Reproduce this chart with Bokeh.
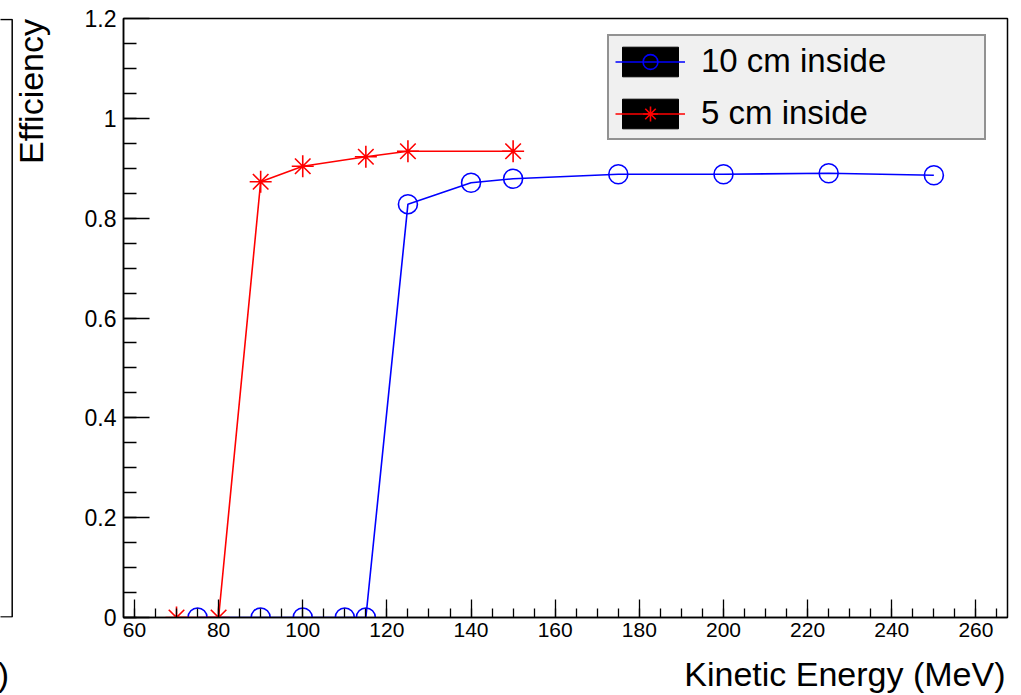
import math
from bokeh.plotting import figure
from bokeh.layouts import row
from bokeh.models import (Range1d, FixedTicker, Legend, LegendItem, Label,
                          ColumnDataSource)
from bokeh.embed import file_html
from bokeh.resources import INLINE

# ---------------- data ----------------
energy_10cm = [75, 90, 100, 110, 115, 125, 140, 150, 175, 200, 225, 250]
eff_10cm = [0.0, 0.0, 0.0, 0.0, 0.0, 0.828, 0.871, 0.879, 0.888, 0.888, 0.890, 0.886]

energy_5cm = [70, 80, 90, 100, 115, 125, 150]
eff_5cm = [0.0, 0.0, 0.873, 0.904, 0.923, 0.934, 0.934]

series_names = ["10 cm inside", "5 cm inside"]

x_major_ticks = [60, 80, 100, 120, 140, 160, 180, 200, 220, 240, 260]
x_minor_ticks = list(range(55, 270, 5))
y_major_ticks = [0, 0.2, 0.4, 0.6, 0.8, 1.0, 1.2]
y_tick_labels = ["0", "0.2", "0.4", "0.6", "0.8", "1", "1.2"]
y_minor_ticks = [i * 0.05 for i in range(0, 25)]

x_title = "Kinetic Energy (MeV)"
y_title = "Efficiency"
neighbour_title_tail = ")"

# ---------------- layout (pixels) ----------------
W, H = 1021, 695
LEFT_W = 60            # left strip: remnant of neighbouring pad + y title
FL, FR, FT, FB = 123, 1007, 18, 617   # main frame in page pixels
XMIN, XMAX = 57.4, 267.5
YMIN, YMAX = 0.0, 1.2
FONT = "Liberation Sans"
NAN = float("nan")
TITLE_MID_Y = 673      # vertical centre of the bottom titles (page px)
YTITLE_MID_X = 30      # horizontal centre of the rotated y title (page px)


def dx(sx):
    return XMIN + (sx - FL) * (XMAX - XMIN) / (FR - FL)


def dy(sy):
    return YMIN + (FB - sy) * (YMAX - YMIN) / (FB - FT)


# ---------------- main plot ----------------
p = figure(width=W - LEFT_W, height=H, output_backend="svg",
           toolbar_location=None,
           x_range=Range1d(XMIN, XMAX), y_range=Range1d(YMIN, YMAX),
           min_border_left=FL - LEFT_W, min_border_right=W - FR,
           min_border_top=FT, min_border_bottom=H - FB)
p.title.visible = False
p.background_fill_color = "white"
p.border_fill_color = "white"
p.outline_line_color = "black"
p.outline_line_width = 1.5
p.xgrid.visible = False
p.ygrid.visible = False

xa = p.xaxis[0]
xa.ticker = FixedTicker(ticks=x_major_ticks, minor_ticks=x_minor_ticks)
xa.major_tick_in = 18
xa.major_tick_out = 0
xa.minor_tick_in = 9
xa.minor_tick_out = 0
xa.major_tick_line_width = 1.3
xa.minor_tick_line_width = 1.3
xa.axis_line_width = 1.5
xa.major_label_text_font = FONT
xa.major_label_text_font_size = "21px"
xa.major_label_text_color = "black"
xa.major_label_standoff = 5

ya = p.yaxis[0]
ya.ticker = FixedTicker(ticks=y_major_ticks, minor_ticks=y_minor_ticks)
ya.major_label_overrides = {t: l for t, l in zip(y_major_ticks, y_tick_labels)}
ya.major_tick_in = 26
ya.major_tick_out = 0
ya.minor_tick_in = 13
ya.minor_tick_out = 0
ya.major_tick_line_width = 1.3
ya.minor_tick_line_width = 1.3
ya.axis_line_width = 1.5
ya.major_label_text_font = FONT
ya.major_label_text_font_size = "23px"
ya.major_label_text_color = "black"
ya.major_label_standoff = 7

src10 = ColumnDataSource(dict(x=energy_10cm, y=eff_10cm))
src5 = ColumnDataSource(dict(x=energy_5cm, y=eff_5cm))

l10 = p.line("x", "y", source=src10, line_color="#0000ff", line_width=1.6)
m10 = p.scatter("x", "y", source=src10, marker="circle", size=19,
                fill_color=None, line_color="#0000ff", line_width=1.6)
l5 = p.line("x", "y", source=src5, line_color="#ff0000", line_width=1.6)
m5 = p.scatter("x", "y", source=src5, marker="asterisk", size=22,
               line_color="#ff0000", line_width=1.6)

# black swatch behind each legend entry (NaN -> nothing drawn in the plot)
swatch = p.quad(left=[NAN], right=[NAN], top=[NAN], bottom=[NAN],
                fill_color="black", line_color="black")

legend = Legend(items=[
    LegendItem(label=series_names[0], renderers=[swatch, l10, m10]),
    LegendItem(label=series_names[1], renderers=[swatch, l5, m5]),
])
legend.location = (607 - FL, FB - 140)
legend.margin = 0
legend.padding = 6
legend.spacing = 14
legend.glyph_width = 70
legend.glyph_height = 37
legend.label_standoff = 16
legend.label_width = 378 - 12 - 70 - 16 - 3
legend.label_height = 37
legend.label_text_font = FONT
legend.label_text_font_size = "33px"
legend.label_text_color = "black"
legend.label_text_baseline = "middle"
legend.background_fill_color = "#f0f0f0"
legend.background_fill_alpha = 1.0
legend.border_line_color = "#333333"
legend.border_line_width = 2
p.add_layout(legend, "center")

# x title: placed in the bottom side panel (not clipped), right aligned
p.add_layout(Label(x=dx(1005), y=dy(TITLE_MID_Y), text=x_title,
                   text_align="right", text_baseline="middle",
                   text_font=FONT, text_font_size="34px",
                   text_color="black"), "below")

# ---------------- left strip (frame aligned with the main frame) ----------------
pl = figure(width=LEFT_W, height=H, output_backend="svg", toolbar_location=None,
            x_range=Range1d(0, LEFT_W), y_range=Range1d(0, FB - FT),
            min_border=0, min_border_left=0, min_border_right=0,
            min_border_top=FT, min_border_bottom=H - FB,
            x_axis_location=None, y_axis_location=None)
pl.title.visible = False
pl.xgrid.visible = False
pl.ygrid.visible = False
pl.outline_line_color = None
pl.background_fill_color = "white"
pl.border_fill_color = "white"

# right edge of the neighbouring pad's frame (y = FB - page_y)
pl.line(x=[-2, 11.7, 11.7, -2], y=[FB - 19, FB - 19, FB - 616.6, FB - 616.6],
        line_color="black", line_width=1.5)
pl.add_layout(Label(x=YTITLE_MID_X, y=FB - 18.5, text=y_title,
                    angle=math.pi / 2, text_align="right",
                    text_baseline="middle", text_font=FONT,
                    text_font_size="34px", text_color="black"))
# tail of the neighbouring pad's x title, in the bottom side panel
pl.add_layout(Label(x=8.5, y=FB - TITLE_MID_Y, text=neighbour_title_tail,
                    text_align="right", text_baseline="middle",
                    text_font=FONT, text_font_size="34px", text_color="black"),
              "below")

layout = row(pl, p, spacing=0)
open("out.html", "w").write(file_html(layout, INLINE))
